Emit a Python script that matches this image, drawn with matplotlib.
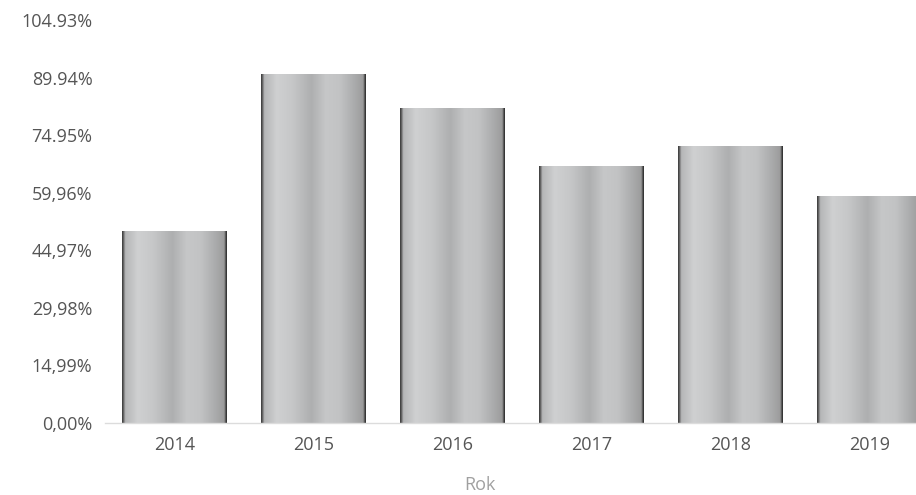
import matplotlib.pyplot as plt
import numpy as np
from matplotlib.colors import LinearSegmentedColormap

years = ['2014', '2015', '2016', '2017', '2018', '2019']
values = [50.0, 91.0, 82.1, 67.0, 72.2, 59.2]
tick_values = [0, 14.99, 29.98, 44.97, 59.96, 74.95, 89.94, 104.93]
tick_labels = ['0,00%', '14,99%', '29,98%', '44,97%', '59,96%',
               '74.95%', '89.94%', '104.93%']

plt.rcParams['font.family'] = ['Open Sans', 'DejaVu Sans']

fig = plt.figure(figsize=(9.16, 4.95), dpi=100)
ax = fig.add_axes([105 / 916, 1 - 423 / 495, 834 / 916, 403 / 495])

# metallic look: thin dark edges, light and darker bands across the bar
metal = LinearSegmentedColormap.from_list('metal', [
    (0.00, '#3a3a3a'), (0.015, '#6a6a6a'), (0.03, '#b5b6b7'),
    (0.15, '#cfd0d1'), (0.30, '#c6c7c8'), (0.48, '#aeafb0'),
    (0.62, '#c6c7c8'), (0.75, '#c2c3c4'), (0.90, '#a9aaab'),
    (0.975, '#9c9c9c'), (0.99, '#505050'), (1.00, '#2a2a2a')])
grad = np.linspace(0, 1, 512).reshape(1, -1)

width = 0.75
bars = ax.bar(range(len(years)), values, width=width, color='none', edgecolor='none')
for b in bars:
    x0, y0 = b.get_x(), b.get_y()
    im = ax.imshow(grad, cmap=metal, aspect='auto', interpolation='bilinear',
                   extent=[x0, x0 + b.get_width(), y0, y0 + b.get_height()],
                   zorder=2)
    im.set_clip_path(b)

ax.set_xlim(-0.5, 5.5)
ax.set_ylim(0, 104.93)
ax.set_xticks(range(len(years)))
ax.set_xticklabels(years)
ax.set_yticks(tick_values)
ax.set_yticklabels(tick_labels)
ax.tick_params(length=0, labelsize=13, colors='#555555')
ax.tick_params(axis='x', pad=9)
ax.tick_params(axis='y', pad=9)

for s in ['top', 'right', 'left']:
    ax.spines[s].set_visible(False)
ax.spines['bottom'].set_color('#dcdcdc')
ax.spines['bottom'].set_linewidth(1)

fig.text(480 / 916, 1 - 485 / 495, 'Rok', ha='center', va='center',
         fontsize=13, color='#a0a0a0')

fig.savefig('out.png', dpi=100)
